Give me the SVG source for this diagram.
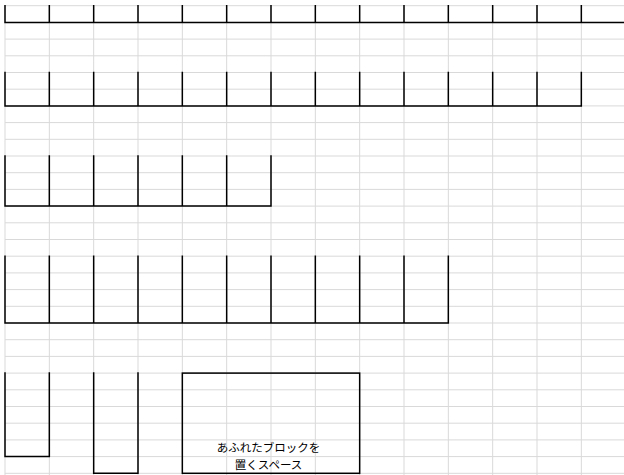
<svg xmlns="http://www.w3.org/2000/svg" width="624" height="475" viewBox="0 0 624 475">
<style>
.grid{fill:none;stroke:#d9d9d9;stroke-width:1}
.blk{fill:none;stroke:#000;stroke-width:1.5;stroke-linecap:square}
.lbl{font-family:"Liberation Sans","Noto Sans CJK JP",sans-serif;font-size:11.5px;fill:#000;text-anchor:middle}
</style>
<rect width="624" height="475" fill="#fff"/>
<g id="grid" class="grid">
<path d="M5 5.7H624M5 22.4H624M5 39.1H624M5 55.8H624M5 72.5H624M5 89.2H624M5 105.9H624M5 122.6H624M5 139.3H624M5 156H624M5 172.7H624M5 189.4H624M5 206.1H624M5 222.8H624M5 239.5H624M5 256.2H624M5 272.9H624M5 289.6H624M5 306.3H624M5 323H624M5 339.7H624M5 356.4H624M5 373.1H624M5 389.8H624M5 406.5H624M5 423.2H624M5 439.9H624M5 456.6H624M5 473.3H624"/>
<path d="M5 5.7V475M49.33 5.7V475M93.67 5.7V475M138 5.7V475M182.33 5.7V475M226.67 5.7V475M271 5.7V475M315.33 5.7V475M359.67 5.7V475M404 5.7V475M448.33 5.7V475M492.67 5.7V475M537 5.7V475M581.33 5.7V475"/>
</g>
<g id="band1" class="blk">
<path d="M5 5.7V22.4M49.33 5.7V22.4M93.67 5.7V22.4M138 5.7V22.4M182.33 5.7V22.4M226.67 5.7V22.4M271 5.7V22.4M315.33 5.7V22.4M359.67 5.7V22.4M404 5.7V22.4M448.33 5.7V22.4M492.67 5.7V22.4M537 5.7V22.4M581.33 5.7V22.4M5 22.4H624"/>
</g>
<g id="band2" class="blk">
<path d="M5 72.5V105.9M49.33 72.5V105.9M93.67 72.5V105.9M138 72.5V105.9M182.33 72.5V105.9M226.67 72.5V105.9M271 72.5V105.9M315.33 72.5V105.9M359.67 72.5V105.9M404 72.5V105.9M448.33 72.5V105.9M492.67 72.5V105.9M537 72.5V105.9M581.33 72.5V105.9M5 105.9H581.33"/>
</g>
<g id="band3" class="blk">
<path d="M5 156V206.1M49.33 156V206.1M93.67 156V206.1M138 156V206.1M182.33 156V206.1M226.67 156V206.1M271 156V206.1M5 206.1H271"/>
</g>
<g id="band4" class="blk">
<path d="M5 256.2V323M49.33 256.2V323M93.67 256.2V323M138 256.2V323M182.33 256.2V323M226.67 256.2V323M271 256.2V323M315.33 256.2V323M359.67 256.2V323M404 256.2V323M448.33 256.2V323M5 323H448.33"/>
</g>
<g id="slot1" class="blk"><path d="M5 373.1V456.6H49.33V373.1"/></g>
<g id="slot2" class="blk"><path d="M93.67 373.1V473.3H138V373.1"/></g>
<g id="overflow-space">
<rect class="blk" x="182.33" y="373.1" width="177.34" height="100.2"/>
<text class="lbl" x="268.5" y="451.5">あふれたブロックを</text>
<text class="lbl" x="268.5" y="468.5">置くスペース</text>
</g>
</svg>
